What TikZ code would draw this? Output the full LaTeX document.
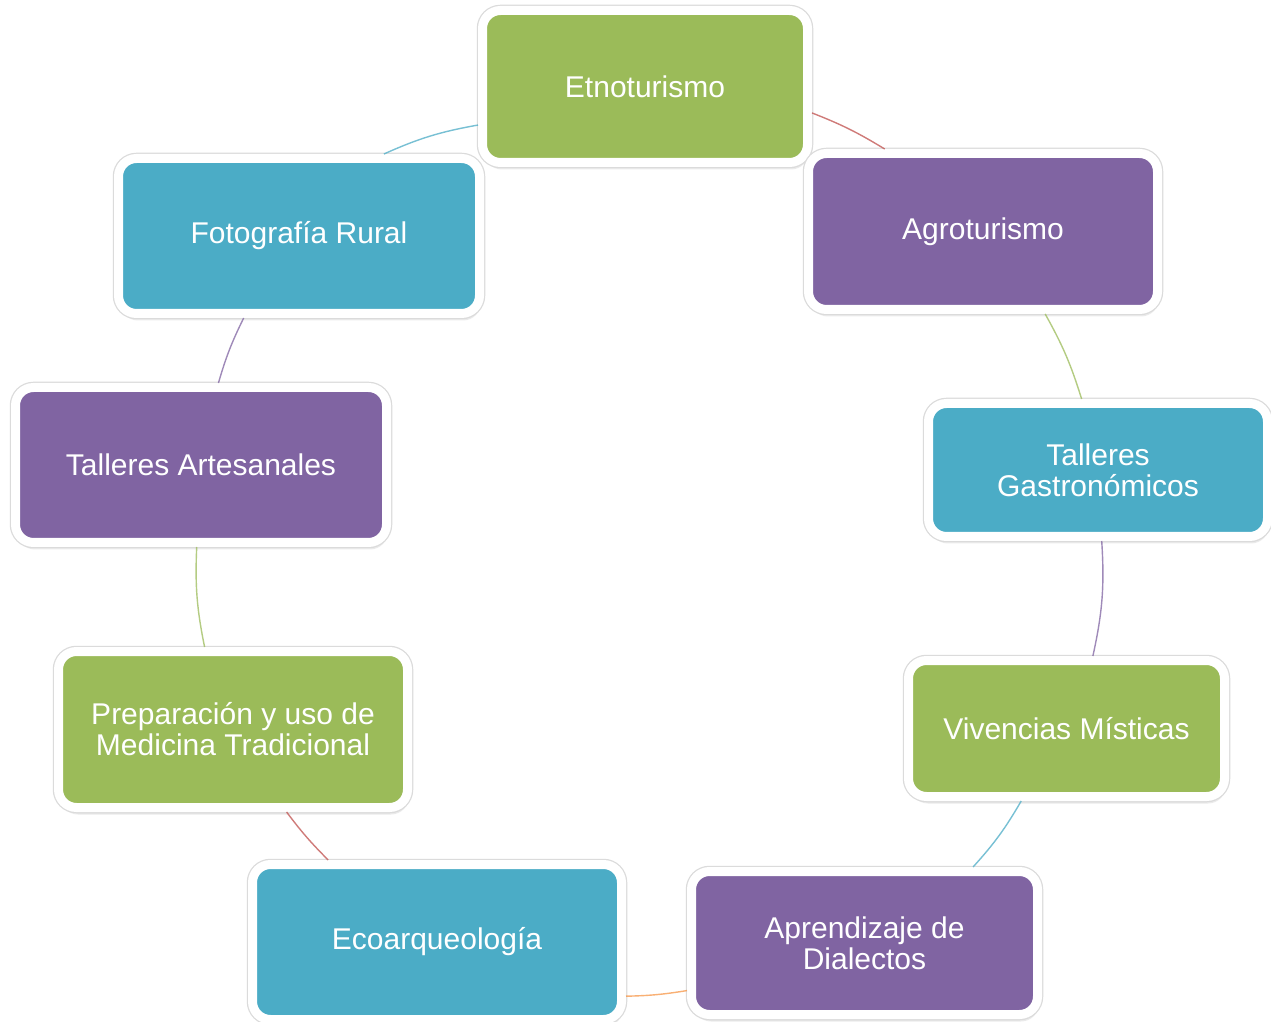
\documentclass[tikz,border=0pt]{standalone}
\usepackage{fontspec}
\setmainfont{Liberation Sans}
\usetikzlibrary{shadows}
\definecolor{cgreen}{HTML}{9BBB59}
\definecolor{cpurple}{HTML}{8064A2}
\definecolor{cblue}{HTML}{4BACC6}
\definecolor{cred}{HTML}{C0504D}
\definecolor{corange}{HTML}{F79646}
\begin{document}
\begin{tikzpicture}[x=1pt,y=1pt,
  card/.style={rectangle, rounded corners=18pt, draw=white, line width=9pt,
    inner sep=0pt, align=center, text=white,
    font=\fontsize{30}{31}\selectfont,
    drop shadow={shadow xshift=1.5pt, shadow yshift=-7pt, opacity=.16},
    drop shadow={shadow xshift=0.5pt, shadow yshift=-5.5pt, opacity=.16},
    preaction={draw=black!14, line width=11.5pt}},
  link/.style={line width=1.4pt, opacity=.75}]
\fill[white] (0,0) rectangle (1271,1021);
\useasboundingbox (0,0) rectangle (1271,1021);

% activity cards around the cycle
\node[card, fill=cgreen,  minimum width=325pt, minimum height=152pt] (etno)   at (645,934.5)  {Etnoturismo};
\node[card, fill=cpurple, minimum width=349pt, minimum height=156pt] (agro)   at (983,789.5)  {Agroturismo};
\node[card, fill=cblue,   minimum width=339pt, minimum height=133pt] (gastro) at (1098,551)   {Talleres\\Gastronómicos};
\node[card, fill=cgreen,  minimum width=316pt, minimum height=136pt] (viv)    at (1066.5,292.5) {Vivencias Místicas};
\node[card, fill=cpurple, minimum width=346pt, minimum height=143pt] (apr)    at (864.5,78)   {Aprendizaje de\\Dialectos};
\node[card, fill=cblue,   minimum width=369pt, minimum height=155pt] (eco)    at (437,79)     {Ecoarqueología};
\node[card, fill=cgreen,  minimum width=349pt, minimum height=156pt] (prep)   at (233,291.5)  {Preparación y uso de\\Medicina Tradicional};
\node[card, fill=cpurple, minimum width=371pt, minimum height=155pt] (tart)   at (201,556)    {Talleres Artesanales};
\node[card, fill=cblue,   minimum width=361pt, minimum height=155pt] (foto)   at (299,785)    {Fotografía Rural};

% arcs linking consecutive cards (clockwise)
\draw[link, cblue]   (foto.44)   to[bend left=7] (etno.193);
\draw[link, cred]    (etno.-9)   to[bend left=5] (agro.140);
\draw[link, cgreen]  (agro.-53)  to[bend left=6] (gastro.103);
\draw[link, cpurple] (gastro.-87) to[bend left=8] (viv.70);
\draw[link, cblue]   (viv.-122)  to[bend left=6] (apr.35);
\draw[link, corange] (apr.195)   to[bend left=4] (eco.-16);
\draw[link, cred]    (eco.143)   to[bend left=4] (prep.-57);
\draw[link, cgreen]  (prep.109)  to[bend left=7] (tart.267);
\draw[link, cpurple] (tart.78)   to[bend left=5] (foto.236);
\end{tikzpicture}
\end{document}
